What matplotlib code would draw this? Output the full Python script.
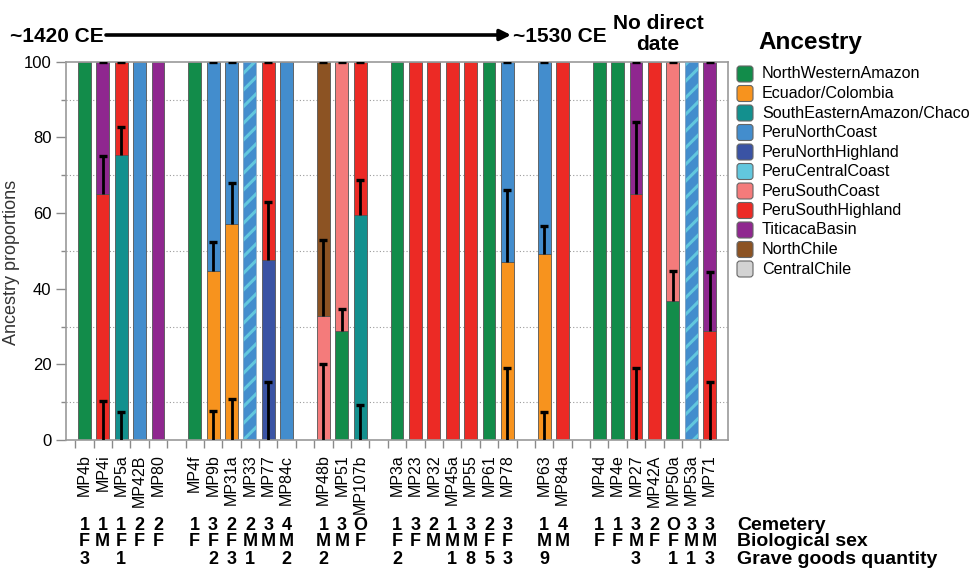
import matplotlib
matplotlib.use("Agg")
import matplotlib.pyplot as plt
from matplotlib.patches import FancyBboxPatch
from matplotlib import transforms

plt.rcParams['font.family'] = ['Liberation Sans', 'DejaVu Sans']
plt.rcParams['hatch.linewidth'] = 2.2

# ---- data -------------------------------------------------------------
ancestries = ["NorthWesternAmazon", "Ecuador/Colombia", "SouthEasternAmazon/Chaco",
              "PeruNorthCoast", "PeruNorthHighland", "PeruCentralCoast",
              "PeruSouthCoast", "PeruSouthHighland", "TiticacaBasin",
              "NorthChile", "CentralChile"]
anc_colors = ["#128c4a", "#f7931e", "#13908e", "#438dcd", "#3a53a4", "#62c7de",
              "#f47b7b", "#ec2a25", "#8f278f", "#8c5323", "#d3d3d3"]

# samples in chronological groups (a blank slot separates groups)
group_sizes = [5, 6, 3, 7, 2, 7]
samples = ["MP4b", "MP4i", "MP5a", "MP42B", "MP80",
           "MP4f", "MP9b", "MP31a", "MP33", "MP77", "MP84c",
           "MP48b", "MP51", "MP107b",
           "MP3a", "MP23", "MP32", "MP45a", "MP55", "MP61", "MP78",
           "MP63", "MP84a",
           "MP4d", "MP4e", "MP27", "MP42A", "MP50a", "MP53a", "MP71"]

# first (lower) source and its proportion; second source fills to 100
source1 = ["NorthWesternAmazon", "PeruSouthHighland", "SouthEasternAmazon/Chaco", "PeruNorthCoast", "TiticacaBasin",
           "NorthWesternAmazon", "Ecuador/Colombia", "Ecuador/Colombia", "PeruNorthCoast", "PeruNorthHighland", "PeruNorthCoast",
           "PeruSouthCoast", "NorthWesternAmazon", "SouthEasternAmazon/Chaco",
           "NorthWesternAmazon", "PeruSouthHighland", "PeruSouthHighland", "PeruSouthHighland", "PeruSouthHighland",
           "NorthWesternAmazon", "Ecuador/Colombia",
           "Ecuador/Colombia", "PeruSouthHighland",
           "NorthWesternAmazon", "NorthWesternAmazon", "PeruSouthHighland", "PeruSouthHighland",
           "NorthWesternAmazon", "PeruNorthCoast", "PeruSouthHighland"]
proportion1 = [100, 65.0, 75.4, 100, 100,
               100, 44.8, 57.1, 100, 47.5, 100,
               32.8, 28.7, 59.6,
               100, 100, 100, 100, 100, 100, 47.1,
               49.1, 100,
               100, 100, 65.0, 100, 36.8, 100, 28.9]
source2 = [None, "TiticacaBasin", "PeruSouthHighland", None, None,
           None, "PeruNorthCoast", "PeruNorthCoast", None, "PeruSouthHighland", None,
           "NorthChile", "PeruSouthCoast", "PeruSouthHighland",
           None, None, None, None, None, None, "PeruNorthCoast",
           "PeruNorthCoast", None,
           None, None, "TiticacaBasin", None, "PeruSouthCoast", None, "TiticacaBasin"]
std_err = [0, 10.2, 7.4, 0, 0,
           0, 7.6, 10.8, 0, 15.3, 0,
           20.1, 5.8, 9.2,
           0, 0, 0, 0, 0, 0, 19.0,
           7.4, 0,
           0, 0, 19.0, 0, 7.9, 0, 15.4]
base_err_shown = [False, True, True, False, False,
                  False, True, True, False, True, False,
                  True, False, True,
                  False, False, False, False, False, False, True,
                  True, False,
                  False, False, True, False, False, False, True]
hatched = ["MP33", "MP53a"]

cemetery = ["1", "1", "1", "2", "2",
            "1", "3", "2", "2", "3", "4",
            "1", "3", "O",
            "1", "3", "2", "1", "3", "2", "3",
            "1", "4",
            "1", "1", "3", "2", "O", "3", "3"]
sex = ["F", "M", "F", "F", "F",
       "F", "F", "F", "M", "M", "M",
       "M", "M", "F",
       "F", "F", "M", "M", "M", "F", "F",
       "M", "M",
       "F", "F", "M", "F", "F", "M", "M"]
grave_goods = ["3", "", "1", "", "",
               "", "2", "3", "1", "", "2",
               "2", "", "",
               "2", "", "", "1", "8", "5", "3",
               "9", "",
               "", "", "3", "", "1", "1", "3"]
row_titles = ["Cemetery", "Biological sex", "Grave goods quantity"]

# ---- layout -----------------------------------------------------------
W, H = 971, 568
fig = plt.figure(figsize=(W / 100, H / 100), dpi=100)
ax = fig.add_axes([66 / W, 1 - 440 / H, (728 - 66) / W, (440 - 61.7) / H])

positions = []
slot = 0
for g in group_sizes:
    for _ in range(g):
        positions.append(slot)
        slot += 1
    slot += 1

color_of = dict(zip(ancestries, anc_colors))
bar_w = 0.7
edge = "#555555"

for x, name, s1, p1, s2, se, base in zip(positions, samples, source1, proportion1,
                                         source2, std_err, base_err_shown):
    if name in hatched:
        ax.bar(x, p1, width=bar_w, color=color_of[s1], edgecolor=color_of["PeruCentralCoast"],
               hatch="//", linewidth=0, zorder=2)
        ax.bar(x, p1, width=bar_w, fill=False, edgecolor="#8aa9c4", linewidth=0.6, zorder=3)
    else:
        ax.bar(x, p1, width=bar_w, color=color_of[s1], edgecolor=edge, linewidth=0.6, zorder=2)
    if s2 is not None:
        ax.bar(x, 100 - p1, bottom=p1, width=bar_w, color=color_of[s2],
               edgecolor=edge, linewidth=0.6, zorder=2)
        starts = [p1] + ([0] if base else [])
        for y0 in starts:
            ax.plot([x, x], [y0, y0 + se], color="black", lw=2.0, zorder=4,
                    solid_capstyle="butt")
            ax.plot(x, y0 + se, marker="_", ms=6, mew=2.4, color="black", zorder=4)
        ax.plot(x, 100, marker="_", ms=6, mew=2.4, color="black", zorder=4)

ax.set_xlim(-1, 35)
ax.set_ylim(0, 100)
ax.set_yticks(range(0, 101, 20))
ax.set_yticks(range(10, 100, 20), minor=True)
ax.grid(which="minor", axis="y", linestyle=(0, (1, 2)), color="#9a9a9a", lw=0.8, zorder=0)
ax.set_axisbelow(True)

ax.set_xticks(positions)
ax.set_xticklabels(samples, rotation=90, fontsize=11.5)
ax.set_xticks([p - 0.5 for p in range(35)], minor=True)
ax.tick_params(axis="x", which="major", length=0, pad=10.5)
ax.tick_params(axis="x", which="minor", length=6, width=1, color="#8a8a8a")
ax.tick_params(axis="y", which="major", length=7, width=1, color="#8a8a8a", labelsize=12)
ax.tick_params(axis="y", which="minor", length=3.5, width=1, color="#8a8a8a")
ax.set_ylabel("Ancestry proportions", fontsize=13, color="#333333")
ax.yaxis.set_label_coords(-0.069, 0.47)
for sp in ax.spines.values():
    sp.set_color("#9a9a9a")
    sp.set_linewidth(1.2)

# ---- overlay in pixel coordinates: header, legend, metadata rows -------
lax = fig.add_axes([0, 0, 1, 1])
lax.set_xlim(0, W)
lax.set_ylim(H, 0)
lax.axis("off")

lax.text(10, 36, "~1420 CE", fontsize=15, weight="bold", ha="left", va="center")
lax.annotate("", xy=(511, 35), xytext=(106, 35),
             arrowprops=dict(arrowstyle="-|>", lw=2.6, color="black",
                             mutation_scale=16, shrinkA=0, shrinkB=0))
lax.text(513, 36, "~1530 CE", fontsize=15, weight="bold", ha="left", va="center")
lax.text(658, 34, "No direct\ndate", fontsize=15, weight="bold", ha="center",
         va="center", linespacing=1.15)

lax.text(758, 42, "Ancestry", fontsize=17.5, weight="bold", ha="left", va="center")
for i, (name, col) in enumerate(zip(ancestries, anc_colors)):
    yc = 74 + 19.5 * i
    lax.add_patch(FancyBboxPatch((737, yc - 8), 16, 16,
                                 boxstyle="round,pad=0,rounding_size=3",
                                 fc=col, ec="#666666", lw=0.8))
    lax.text(762, yc, name, fontsize=11.6, ha="left", va="center")

row_y = [525, 542, 559]
blend = transforms.blended_transform_factory(ax.transData, lax.transData)
for yrow, values in zip(row_y, [cemetery, sex, grave_goods]):
    for x, v in zip(positions, values):
        if v:
            lax.text(x, yrow, v, transform=blend, fontsize=13, weight="bold",
                     ha="center", va="center")
for yrow, title in zip(row_y, row_titles):
    lax.text(737, yrow, title, fontsize=14, weight="bold", ha="left", va="center")

fig.savefig("out.png", dpi=100)
